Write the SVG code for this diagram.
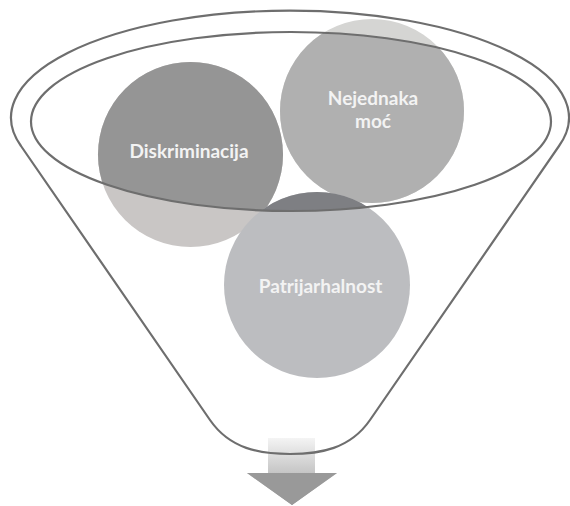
<svg xmlns="http://www.w3.org/2000/svg" width="570" height="506" viewBox="0 0 570 506">
<style>
.rim{fill:none;stroke:#6e6e6e;stroke-width:2.2}
.lbl{font-family:Lato,"Liberation Sans",Arial,sans-serif;font-weight:bold;font-size:19px;fill:#f3f3f3;text-anchor:middle}
</style>
<defs>
<clipPath id="rimClip"><ellipse cx="291" cy="121.5" rx="260" ry="89.5"/></clipPath>
<linearGradient id="shaft" x1="0" y1="0" x2="0" y2="1">
<stop offset="0" stop-color="#f4f4f4"/>
<stop offset="1" stop-color="#9a9a9a"/>
</linearGradient>
</defs>
<rect width="570" height="506" fill="#ffffff"/>
<g id="connectors">
<path d="M268,438 H315 V473 H337 L292,505 L247,473 H268 Z" fill="url(#shaft)"/>
<path d="M247,473 H337 L292,505 Z" fill="#999999"/>
</g>
<g id="node-diskriminacija">
<circle cx="190.5" cy="154.5" r="92.5" fill="#c9c6c5"/>
<circle cx="190.5" cy="154.5" r="92.5" fill="#959595" clip-path="url(#rimClip)"/>
<text class="lbl" x="189" y="158">Diskriminacija</text>
</g>
<g id="node-nejednaka">
<circle cx="372" cy="111" r="92" fill="#d5d5d3"/>
<circle cx="372" cy="111" r="92" fill="#b0b0b0" clip-path="url(#rimClip)"/>
<text class="lbl" x="373" y="105">Nejednaka</text>
<text class="lbl" x="373" y="128">moć</text>
</g>
<g id="node-patrijarhalnost">
<circle cx="317" cy="285" r="93" fill="#bcbdc0"/>
<circle cx="317" cy="285" r="93" fill="#7e7f83" clip-path="url(#rimClip)"/>
<text class="lbl" x="320.5" y="293">Patrijarhalnost</text>
</g>
<g id="funnel">
<path class="rim" d="M21,146 A279,107 0 1 1 559,146 L370,420 C350,449 320,454 290,454 C260,454 230,449 210,420 Z"/>
<ellipse class="rim" cx="291" cy="121.5" rx="260" ry="89.5"/>
</g>
</svg>
